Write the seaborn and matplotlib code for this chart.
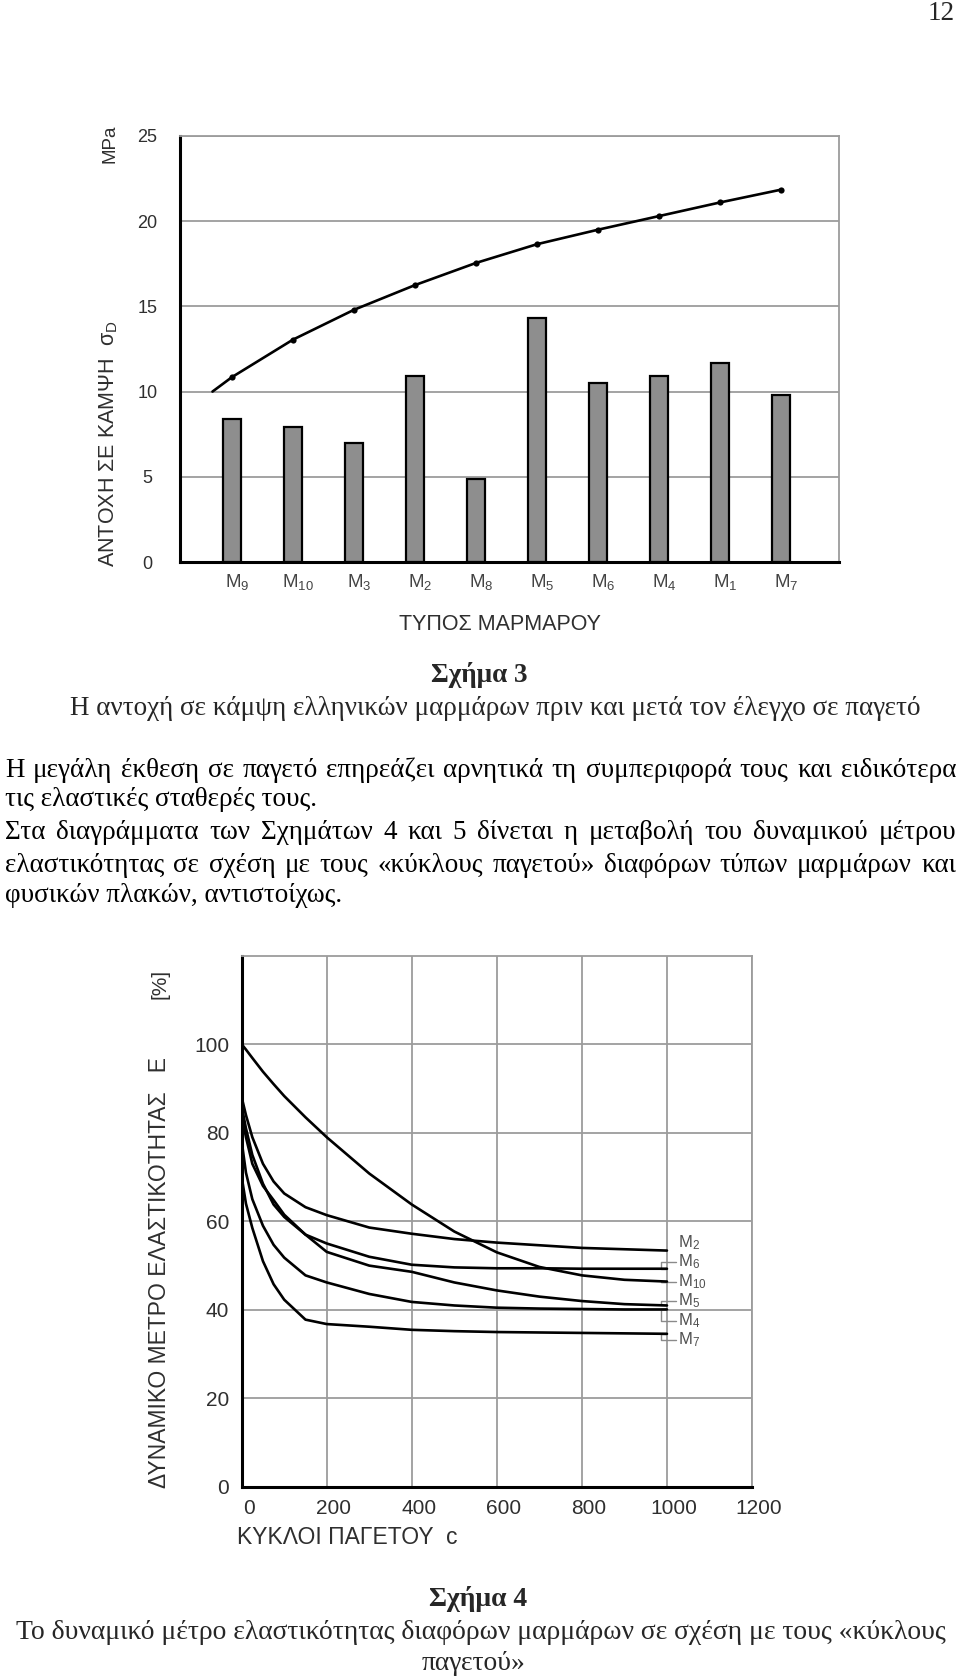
import numpy as np
import pandas as pd
import matplotlib
matplotlib.use("Agg")
import matplotlib.pyplot as plt
import matplotlib.transforms as mtransforms
import seaborn as sns

# ---------------- Figure 3 data ----------------
marbles = ["M$_9$", "M$_{10}$", "M$_3$", "M$_2$", "M$_8$", "M$_5$", "M$_6$", "M$_4$", "M$_1$", "M$_7$"]
strength_after = [8.4, 7.9, 7.0, 10.9, 4.9, 14.3, 10.5, 10.9, 11.7, 9.8]
strength_before = [10.85, 13.05, 14.8, 16.25, 17.55, 18.65, 19.5, 20.3, 21.1, 21.85]
curve_start_pos = -0.32
curve_start_val = 10.0
fig3_yticks = [0, 5, 10, 15, 20, 25]

# ---------------- Figure 4 data ----------------
cycles = [0, 10, 25, 50, 75, 100, 150, 200, 300, 400, 500, 600, 700, 800, 900, 1000]
E_M2 = [88, 84, 79, 73, 69, 66.3, 63.2, 61.4, 58.6, 57.2, 56.0, 55.2, 54.6, 54.0, 53.7, 53.4]
E_M6 = [86, 81, 75, 68.5, 63.8, 61.0, 57.0, 55.0, 52.0, 50.2, 49.6, 49.4, 49.4, 49.3, 49.3, 49.3]
E_M10 = [100, 98.8, 96.9, 93.8, 91.0, 88.3, 83.5, 79.0, 70.8, 63.8, 57.7, 53.0, 49.7, 47.8, 46.8, 46.4]
E_M5 = [84, 79, 73, 68, 64.8, 61.5, 57.0, 53.1, 50.0, 48.6, 46.2, 44.4, 43.0, 42.0, 41.3, 41.0]
E_M4 = [78, 71, 65, 59, 54.7, 51.8, 47.8, 46.2, 43.6, 41.8, 41.0, 40.5, 40.3, 40.2, 40.1, 40.1]
E_M7 = [70, 64, 58.5, 51, 45.8, 42.3, 37.8, 36.8, 36.2, 35.5, 35.2, 35.0, 34.9, 34.8, 34.7, 34.6]
curve_names = ["M$_2$", "M$_6$", "M$_{10}$", "M$_5$", "M$_4$", "M$_7$"]
curve_label_y = [55.2, 50.8, 46.4, 42.0, 37.6, 33.2]
fig4_xticks = [0, 200, 400, 600, 800, 1000, 1200]
fig4_yticks = [0, 20, 40, 60, 80, 100]

# ---------------- Texts ----------------
page_number = "12"
cap3_title = "Σχήμα 3"
cap3_text = "Η αντοχή σε κάμψη ελληνικών μαρμάρων πριν και μετά τον έλεγχο σε παγετό"
body_lines = [
    "Η μεγάλη έκθεση σε παγετό επηρεάζει αρνητικά τη συμπεριφορά τους και ειδικότερα",
    "τις ελαστικές σταθερές τους.",
    "Στα διαγράμματα των Σχημάτων 4 και 5 δίνεται η μεταβολή του δυναμικού μέτρου",
    "ελαστικότητας σε σχέση με τους «κύκλους παγετού» διαφόρων τύπων μαρμάρων και",
    "φυσικών πλακών, αντιστοίχως.",
]
body_justified = [True, False, True, True, False]
cap4_title = "Σχήμα 4"
cap4_lines = ["Το δυναμικό μέτρο ελαστικότητας διαφόρων μαρμάρων σε σχέση με τους «κύκλους",
              "παγετού»"]

# ---------------- Setup ----------------
W, H, DPI = 960, 1678, 100
sns.set_theme(style="white")
plt.rcParams["font.family"] = ["Liberation Sans", "DejaVu Sans"]
plt.rcParams["mathtext.fontset"] = "custom"
plt.rcParams["mathtext.rm"] = "Liberation Sans"
plt.rcParams["mathtext.it"] = "Liberation Sans:italic"
plt.rcParams["mathtext.bf"] = "Liberation Sans:bold"
plt.rcParams["mathtext.default"] = "regular"

SERIF = ["Liberation Serif", "DejaVu Serif"]
CH_TXT = "#2f2f2f"
GRID = "#9c9c9c"

fig = plt.figure(figsize=(W / DPI, H / DPI), dpi=DPI, facecolor="white")
page = fig.add_axes([0, 0, 1, 1], zorder=0)
page.set_xlim(0, W)
page.set_ylim(H, 0)
page.axis("off")

# ---------------- Figure 3 chart ----------------
ax1 = fig.add_axes([180 / W, 1 - 562 / H, 659 / W, 426 / H], zorder=1)
line_pos = [curve_start_pos] + list(range(len(marbles)))
line_val = [curve_start_val] + strength_before
sns.lineplot(x=line_pos, y=line_val, sort=False, color="black", linewidth=1.9, ax=ax1, zorder=4)
sns.scatterplot(x=list(range(len(marbles))), y=strength_before, color="black", s=20,
                linewidth=0, ax=ax1, zorder=5)
df3 = pd.DataFrame({"marble": marbles, "after": strength_after})
sns.barplot(data=df3, x="marble", y="after", color="#8e8e8e", saturation=1, width=0.3,
            edgecolor="black", linewidth=1.6, ax=ax1, zorder=2)
ax1.set_xlim(-0.852, 9.951)
ax1.set_ylim(0, 25)
ax1.set_yticks(fig3_yticks)
ax1.set_xticks(range(len(marbles)))
ax1.set_xticklabels(marbles)
ax1.set_axisbelow(True)
ax1.yaxis.grid(True, color=GRID, linewidth=1.3, zorder=0)
ax1.xaxis.grid(False)
for s in ["left", "bottom"]:
    ax1.spines[s].set_color("black")
    ax1.spines[s].set_linewidth(2.2)
for s in ["top", "right"]:
    ax1.spines[s].set_color(GRID)
    ax1.spines[s].set_linewidth(1.3)
ax1.tick_params(axis="y", length=0, pad=23.5, labelsize=13, labelcolor=CH_TXT)
ax1.tick_params(axis="x", length=0, pad=7, labelsize=13.5, labelcolor="#444444")
for lab in ax1.get_yticklabels():
    lab.set_ha("center")
offset = mtransforms.ScaledTranslation(5 / DPI, 0, fig.dpi_scale_trans)
for lab in ax1.get_xticklabels():
    lab.set_transform(lab.get_transform() + offset)
ax1.set_xlabel("")
ax1.set_ylabel("")
fig.text(109 / W, 1 - 444 / H, "ΑΝΤΟΧΗ ΣΕ ΚΑΜΨΗ  σ$_D$", rotation=90, ha="center", va="center",
         fontsize=15.5, color=CH_TXT)
fig.text(110 / W, 1 - 144 / H, "MPa", rotation=90, ha="center", va="center",
         fontsize=13.5, color=CH_TXT)
fig.text(500 / W, 1 - 625 / H, "ΤΥΠΟΣ ΜΑΡΜΑΡΟΥ", ha="center", va="center",
         fontsize=15.5, color=CH_TXT)

# ---------------- Figure 4 chart ----------------
ax2 = fig.add_axes([241.7 / W, 1 - 1487 / H, 510.3 / W, 531.3 / H], zorder=1)
series = [E_M2, E_M6, E_M10, E_M5, E_M4, E_M7]
df4 = pd.concat([pd.DataFrame({"cycles": cycles, "E": vals, "marble": name})
                 for name, vals in zip(curve_names, series)], ignore_index=True)
sns.lineplot(data=df4, x="cycles", y="E", units="marble", estimator=None, color="black",
             linewidth=1.9, ax=ax2, legend=False, zorder=3)
ax2.set_xlim(0, 1200)
ax2.set_ylim(0, 120)
ax2.set_xticks(fig4_xticks)
ax2.set_yticks(fig4_yticks)
ax2.set_axisbelow(True)
ax2.grid(True, color=GRID, linewidth=1.3)
for s in ["left", "bottom"]:
    ax2.spines[s].set_color("black")
    ax2.spines[s].set_linewidth(2.2)
for s in ["top", "right"]:
    ax2.spines[s].set_color(GRID)
    ax2.spines[s].set_linewidth(1.3)
ax2.tick_params(axis="both", length=0, labelsize=15, labelcolor=CH_TXT)
ax2.tick_params(axis="y", pad=9)
ax2.tick_params(axis="x", pad=9)
off2 = mtransforms.ScaledTranslation(7 / DPI, 0, fig.dpi_scale_trans)
for lab in ax2.get_xticklabels():
    lab.set_transform(lab.get_transform() + off2)
ax2.set_xlabel("")
ax2.set_ylabel("")

for i, (name, vals, ly) in enumerate(zip(curve_names, series, curve_label_y)):
    end = vals[-1]
    if i > 0:
        ax2.plot([cycles[-1], 985, 985, 1022], [end, end, ly, ly], color="#8a8a8a",
                 linewidth=1.0, clip_on=False, zorder=2)
    ax2.text(1026, ly, name, ha="left", va="center", fontsize=12, color="#505050",
             clip_on=False)

fig.text(160 / W, 1 - 1273 / H, "ΔΥΝΑΜΙΚΟ ΜΕΤΡΟ ΕΛΑΣΤΙΚΟΤΗΤΑΣ   Ε", rotation=90,
         ha="center", va="center", fontsize=16.5, color=CH_TXT)
fig.text(160 / W, 1 - 984 / H, "[%]", rotation=90, ha="center", va="center",
         fontsize=15, color=CH_TXT)
fig.text(237 / W, 1 - 1538 / H, "ΚΥΚΛΟΙ ΠΑΓΕΤΟΥ  c", ha="left", va="center",
         fontsize=16.5, color=CH_TXT)

# ---------------- Page text ----------------
renderer = fig.canvas.get_renderer()


def measure(s, fs, weight="normal"):
    t = page.text(0, 0, s, fontsize=fs, family=SERIF, fontweight=weight)
    w = t.get_window_extent(renderer=renderer).width
    t.remove()
    return w


body_fs = 16 * 313 / measure(body_lines[1], 16)


def baseline(yc, fs):
    return yc + 0.33 * fs * DPI / 72


LEFT, RIGHT = 5, 956
body_y = [768, 797, 830, 863, 893]
for line, just, yc in zip(body_lines, body_justified, body_y):
    if just:
        words = line.split()
        ws = [measure(w, body_fs) for w in words]
        gap = (RIGHT - LEFT - sum(ws)) / (len(words) - 1)
        x = LEFT
        for w, wd in zip(words, ws):
            page.text(x, baseline(yc, body_fs), w, fontsize=body_fs, family=SERIF,
                      ha="left", va="baseline", color="black")
            x += wd + gap
    else:
        page.text(LEFT, baseline(yc, body_fs), line, fontsize=body_fs, family=SERIF,
                  ha="left", va="baseline", color="black")

page.text(479, baseline(673, body_fs), cap3_title, fontsize=body_fs, family=SERIF,
          fontweight="bold", ha="center", va="baseline")
page.text(495, baseline(706, body_fs), cap3_text, fontsize=body_fs, family=SERIF,
          ha="center", va="baseline")
page.text(955, baseline(11, body_fs), page_number, fontsize=body_fs, family=SERIF,
          ha="right", va="baseline")

cap4_fs = body_fs * 931 / measure(cap4_lines[0], body_fs)
page.text(478, baseline(1597, cap4_fs), cap4_title, fontsize=cap4_fs, family=SERIF,
          fontweight="bold", ha="center", va="baseline")
page.text(481, baseline(1630, cap4_fs), cap4_lines[0], fontsize=cap4_fs, family=SERIF,
          ha="center", va="baseline")
page.text(474, baseline(1661, cap4_fs), cap4_lines[1], fontsize=cap4_fs, family=SERIF,
          ha="center", va="baseline")

fig.savefig("out.png", dpi=DPI, facecolor="white")
